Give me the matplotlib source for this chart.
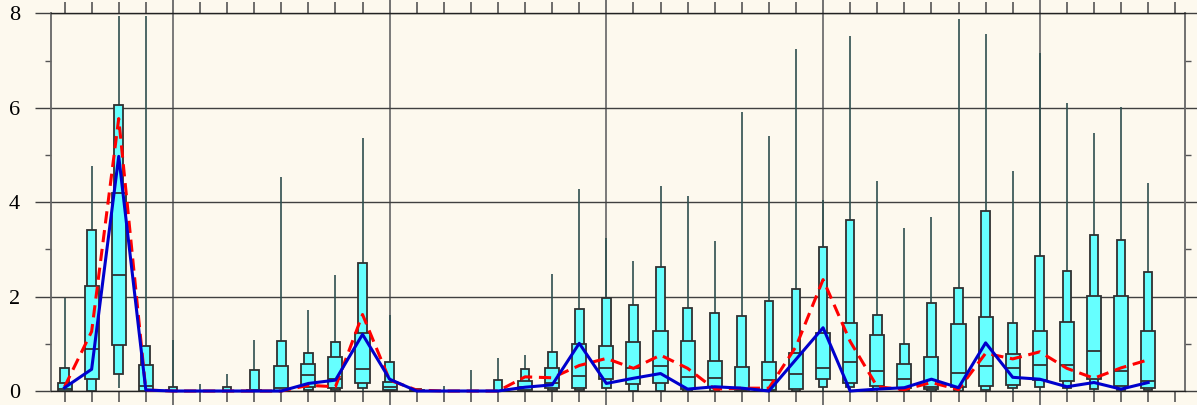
import numpy as np
import matplotlib.pyplot as plt
from matplotlib.ticker import MultipleLocator, FixedLocator

plt.rcParams['font.family'] = ['Liberation Serif', 'DejaVu Serif']

# values, one entry per box (41 boxes)
whisker_hi = [1.96, 4.77, 7.95, 7.95, 1.08, 0.15, 0.36, 1.09, 4.54, 1.71,
              2.45, 5.36, 1.62, 0.05, 0.10, 0.44, 0.69, 0.76, 2.47, 4.27,
              3.25, 2.76, 4.34, 4.14, 3.17, 5.90, 5.40, 7.25, 4.04, 7.51,
              4.45, 3.46, 3.68, 7.87, 7.56, 4.65, 7.16, 6.11, 5.47, 6.02, 4.41]
whisker_lo = [0.0, 0.0, 0.07, 0.0, 0.0, 0.0, 0.0, 0.0, 0.0, 0.0,
              0.0, 0.0, 0.0, 0.0, 0.0, 0.0, 0.0, 0.0, 0.0, 0.0,
              0.0, 0.0, 0.0, 0.0, 0.0, 0.0, 0.0, 0.0, 0.0, 0.0,
              0.0, 0.0, 0.0, 0.0, 0.0, 0.0, 0.0, 0.0, 0.0, 0.0, 0.0]
p_hi = [0.48, 3.41, 6.05, 0.96, 0.08, 0.0, 0.09, 0.44, 1.06, 0.80,
        1.04, 2.72, 0.62, 0.05, 0.0, 0.0, 0.23, 0.46, 0.83, 1.74,
        1.98, 1.83, 2.63, 1.76, 1.65, 1.59, 1.91, 2.15, 3.04, 3.63,
        1.60, 0.99, 1.87, 2.19, 3.82, 1.45, 2.86, 2.55, 3.30, 3.20, 2.53]
p_lo = [0.0, 0.0, 0.35, 0.0, 0.0, 0.0, 0.0, 0.0, 0.0, 0.02,
        0.02, 0.07, 0.0, 0.0, 0.0, 0.0, 0.0, 0.0, 0.02, 0.02,
        0.06, 0.0, 0.0, 0.0, 0.0, 0.0, 0.0, 0.0, 0.08, 0.09,
        0.04, 0.0, 0.0, 0.0, 0.02, 0.06, 0.08, 0.07, 0.04, 0.03, 0.03]
q3 = [0.16, 2.23, 4.20, 0.56, 0.0, 0.0, 0.0, 0.02, 0.54, 0.57,
      0.71, 1.22, 0.20, 0.03, 0.0, 0.0, 0.0, 0.21, 0.48, 0.99,
      0.95, 1.03, 1.27, 1.06, 0.64, 0.51, 0.62, 0.81, 1.22, 1.43,
      1.19, 0.57, 0.73, 1.41, 1.56, 0.78, 1.27, 1.47, 2.02, 2.02, 1.27]
q1 = [0.0, 0.25, 0.97, 0.0, 0.0, 0.0, 0.0, 0.0, 0.0, 0.08,
      0.07, 0.18, 0.02, 0.0, 0.0, 0.0, 0.0, 0.02, 0.06, 0.07,
      0.25, 0.15, 0.18, 0.04, 0.08, 0.03, 0.03, 0.05, 0.25, 0.18,
      0.11, 0.06, 0.04, 0.08, 0.11, 0.13, 0.23, 0.21, 0.25, 0.11, 0.06]
median = [0.05, 0.90, 2.45, 0.10, 0.0, 0.0, 0.0, 0.0, 0.07, 0.33,
          0.25, 0.46, 0.09, 0.0, 0.0, 0.0, 0.0, 0.09, 0.18, 0.32,
          0.48, 0.49, 0.54, 0.30, 0.28, 0.05, 0.23, 0.35, 0.49, 0.62,
          0.42, 0.25, 0.08, 0.39, 0.54, 0.48, 0.56, 0.55, 0.85, 0.42, 0.21]
mean = [0.09, 1.26, 5.77, 0.02, 0.0, 0.0, 0.0, 0.0, 0.0, 0.12,
        0.09, 1.62, 0.23, 0.02, 0.0, 0.0, 0.0, 0.30, 0.28, 0.54,
        0.69, 0.48, 0.76, 0.48, 0.04, 0.06, 0.06, 0.94, 2.36, 1.05,
        0.09, 0.03, 0.18, 0.03, 0.80, 0.68, 0.83, 0.48, 0.27, 0.49, 0.66]
observed = [0.07, 0.46, 4.97, 0.02, 0.0, 0.0, 0.0, 0.0, 0.0, 0.16,
            0.23, 1.20, 0.25, 0.0, 0.0, 0.0, 0.0, 0.08, 0.13, 1.01,
            0.16, 0.27, 0.37, 0.04, 0.09, 0.06, 0.0, 0.67, 1.34, 0.0,
            0.04, 0.07, 0.25, 0.07, 1.02, 0.29, 0.25, 0.09, 0.18, 0.04, 0.18]

pos = np.arange(len(median))
bg = '#fdf9ee'
cyan = '#66ffff'
edge = '#303030'

fig = plt.figure(figsize=(11.97, 4.05), dpi=100)
fig.patch.set_facecolor(bg)
ax = fig.add_axes([51/1197, 14/405, 1134/1197, 377.7/405])
ax.set_facecolor(bg)

# whiskers, outer (narrow) box, inner (wide) box, median
ax.vlines(pos, whisker_lo, whisker_hi, color='#2f4f4f', lw=1.2, zorder=2)
ph = np.array(p_hi); pl = np.array(p_lo)
ax.bar(pos, ph - pl, bottom=pl, width=0.32, color=cyan, edgecolor=edge,
       linewidth=1.3, zorder=3)
h3 = np.array(q3); h1 = np.array(q1)
ax.bar(pos, h3 - h1, bottom=h1, width=0.52, color=cyan, edgecolor=edge,
       linewidth=1.3, zorder=4)
md = np.array(median)
has_box = h3 > h1
ax.hlines(md[has_box], pos[has_box] - 0.26, pos[has_box] + 0.26,
          color=edge, lw=1.3, zorder=5)

ax.plot(pos, mean, color='#ff0000', ls=(0, (4, 2.2)), lw=2.2, zorder=6,
        clip_on=False)
ax.plot(pos, observed, color='#0000cc', lw=2.2, zorder=7, clip_on=False)

ax.set_xlim(-0.5, 41.36)
ax.set_ylim(0, 8)

ax.xaxis.set_major_locator(FixedLocator([4, 12, 20, 28, 36]))
ax.xaxis.set_minor_locator(MultipleLocator(1))
ax.yaxis.set_major_locator(MultipleLocator(2))
ax.yaxis.set_minor_locator(MultipleLocator(1))

ax.yaxis.grid(True, which='major', color='#404040', lw=1.0, zorder=1)
ax.xaxis.grid(True, which='major', color='#707070', lw=1.3, zorder=1)
ax.set_axisbelow(True)

ax.tick_params(axis='y', which='major', direction='out', length=11.5,
               width=1.0, color='#404040', left=True, right=True,
               labelleft=True, labelright=False, labelsize=16, pad=11)
ax.tick_params(axis='y', which='minor', direction='out', length=4.3,
               width=1.0, color='#555555', left=True, right=True)
ax.tick_params(axis='x', which='major', direction='out', length=11.5,
               width=1.3, color='#666666', top=True, bottom=True,
               labelbottom=False, labeltop=False)
ax.tick_params(axis='x', which='minor', direction='out', length=8,
               width=1.2, color='#555555', top=True, bottom=True)

for s in ['left', 'right']:
    ax.spines[s].set_color('#666666')
    ax.spines[s].set_linewidth(1.3)
for s in ['top', 'bottom']:
    ax.spines[s].set_color('#222222')
    ax.spines[s].set_linewidth(1.0)

fig.savefig('out.png', dpi=100, facecolor=fig.get_facecolor())
